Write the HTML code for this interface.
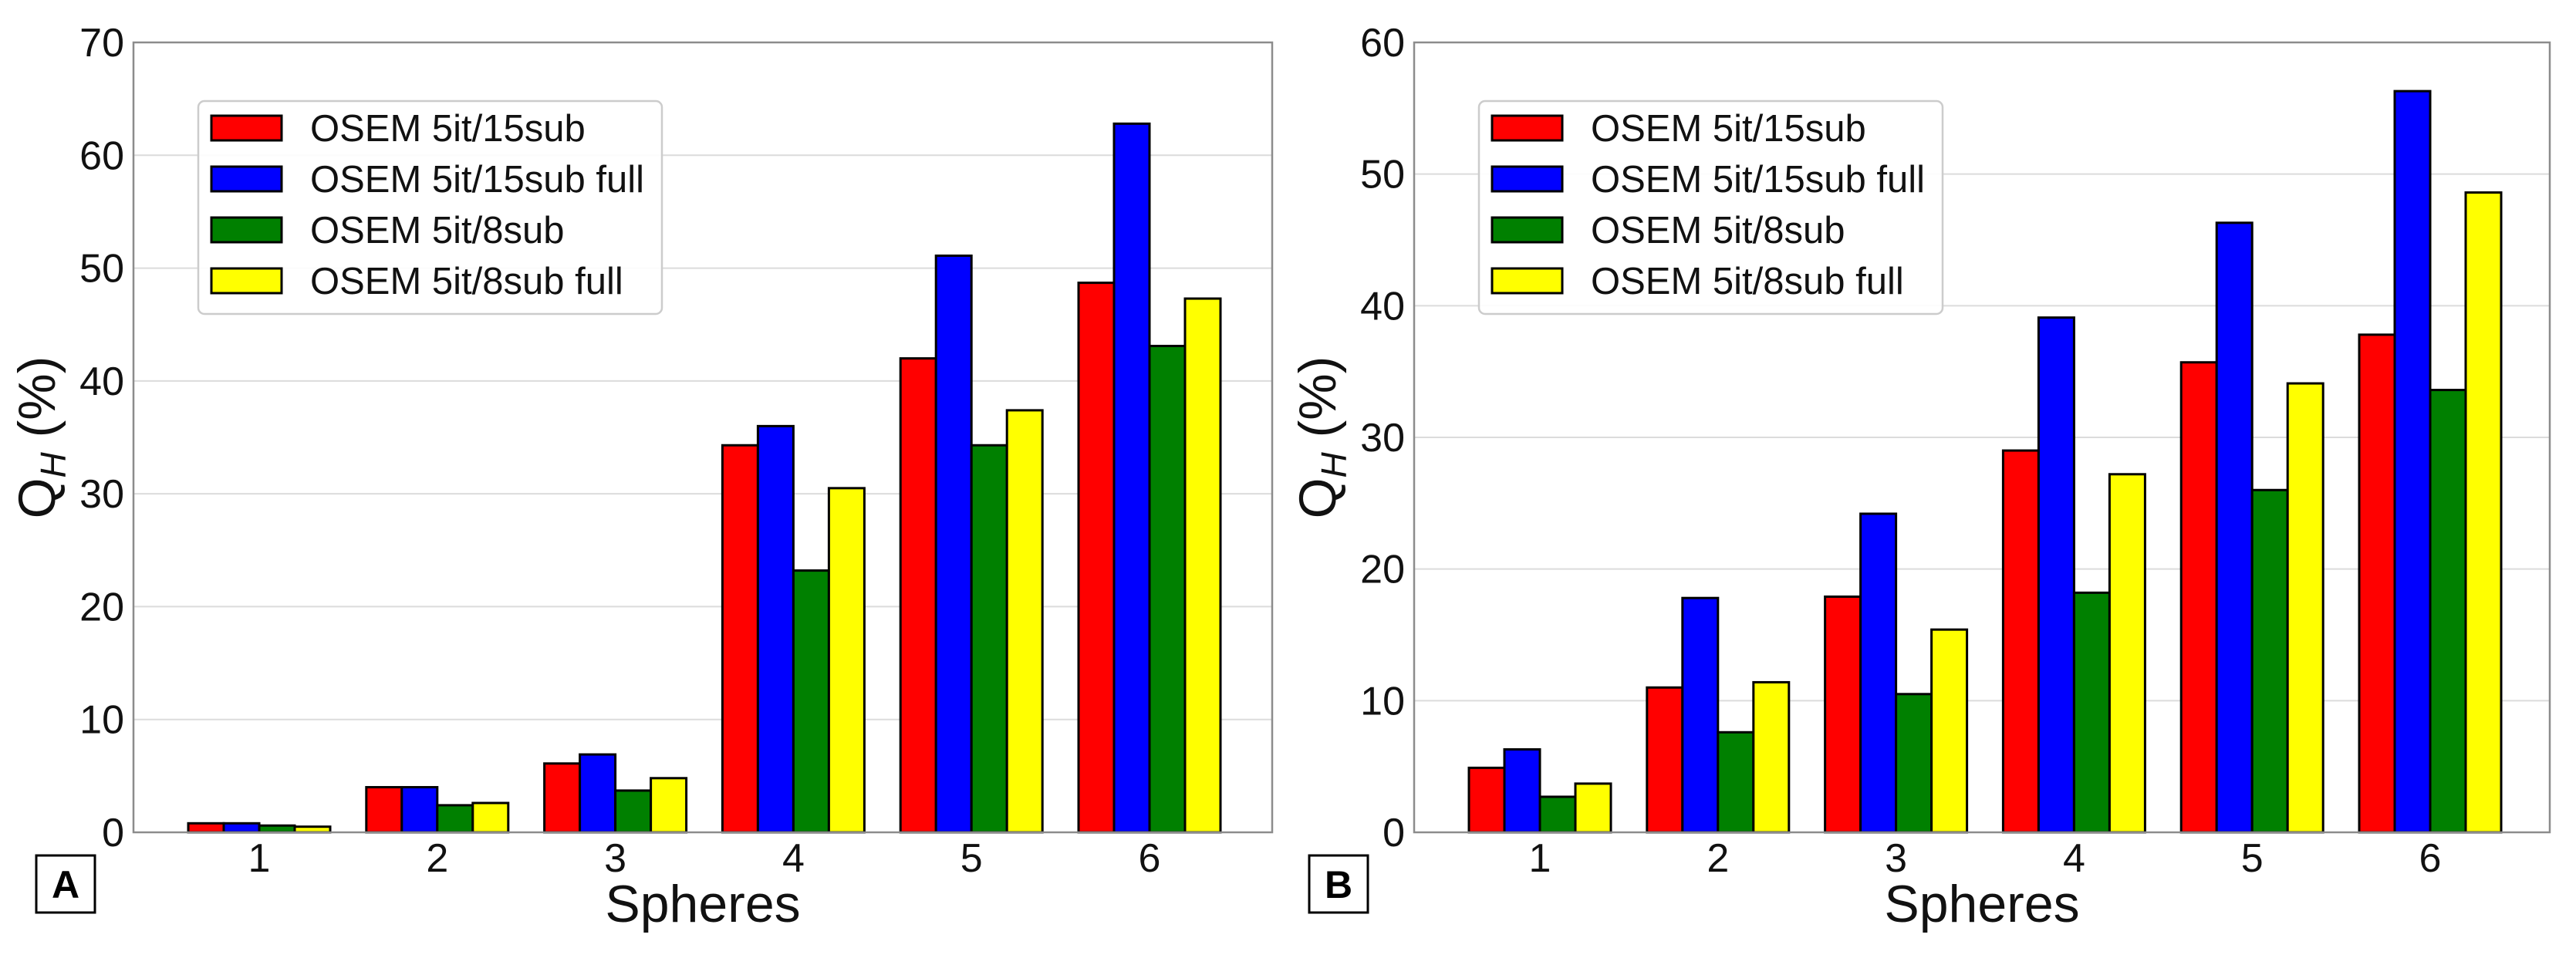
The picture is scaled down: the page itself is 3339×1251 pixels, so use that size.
<!DOCTYPE html>
<html><head><meta charset="utf-8"><style>
html,body{margin:0;padding:0;background:#fff;}
svg text{font-family:"Liberation Sans",sans-serif;}
</style></head><body>
<svg id="svg" width="3339" height="1246" xmlns="http://www.w3.org/2000/svg"></svg>
<script>
const categories = ["1","2","3","4","5","6"];
const seriesNames = ["OSEM 5it/15sub","OSEM 5it/15sub full","OSEM 5it/8sub","OSEM 5it/8sub full"];
const seriesColors = ["#ff0000","#0000ff","#008000","#ffff00"];
const aRed = [0.8, 4.0, 6.1, 34.3, 42.0, 48.7];
const aBlue = [0.8, 4.0, 6.9, 36.0, 51.1, 62.8];
const aGreen = [0.6, 2.4, 3.7, 23.2, 34.3, 43.1];
const aYellow = [0.5, 2.6, 4.8, 30.5, 37.4, 47.3];
const bRed = [4.9, 11.0, 17.9, 29.0, 35.7, 37.8];
const bBlue = [6.3, 17.8, 24.2, 39.1, 46.3, 56.3];
const bGreen = [2.7, 7.6, 10.5, 18.2, 26.0, 33.6];
const bYellow = [3.7, 11.4, 15.4, 27.2, 34.1, 48.6];
const aTicks = [0,10,20,30,40,50,60,70];
const bTicks = [0,10,20,30,40,50,60];

const NS="http://www.w3.org/2000/svg";
const svg=document.getElementById('svg');
function mk(tag,attrs,parent,text){const e=document.createElementNS(NS,tag);for(const k in attrs)e.setAttribute(k,attrs[k]);if(text!==undefined)e.textContent=text;(parent||svg).appendChild(e);return e;}

function panel(id,left,right,yMax,ticks,series,legendX,boxX,letter){
  const top=55,bottom=1079;
  const g=mk('g',{});
  
  
  const tick1=left+163, spacing=230.8;
  const xs=i=>tick1+i*spacing;
  const ys=v=>bottom-(v/yMax)*(bottom-top);
  ticks.forEach(t=>{
    if(t>0&&t<yMax){const l=mk('line',{x1:left,x2:right,y1:ys(t),y2:ys(t),stroke:'#dcdcdc','stroke-width':2},g);
    
    }
    const tx=mk('text',{x:left-12,y:ys(t)+18,'text-anchor':'end','font-size':52,fill:'#111'},g,String(t));
    
    
  });
  const bw=46;
  series.forEach((arr,s)=>{
    arr.forEach((v,i)=>{
      const x=xs(i)-2*bw+s*bw;
      const r=mk('rect',{x:x,y:ys(v),width:bw,height:bottom-ys(v),fill:seriesColors[s],stroke:'#000','stroke-width':3},g);
      
      
    });
  });
  const fr=mk('rect',{x:left,y:top,width:right-left,height:bottom-top,fill:'none',stroke:'#8c8c8c','stroke-width':2.5},g);
  
  
  categories.forEach((c,i)=>{
    const t=mk('text',{x:xs(i),y:1130,'text-anchor':'middle','font-size':52,fill:'#111'},g,c);
    
    
  });
  const xt=mk('text',{x:(left+right)/2,y:1195,'text-anchor':'middle','font-size':68,fill:'#111'},g,'Spheres');
  
  
  const yt=mk('text',{x:0,y:0,'text-anchor':'middle','font-size':68,fill:'#111',transform:`translate(${left-102},567) rotate(-90)`},g);
  
  
  mk('tspan',{},yt,'Q');
  mk('tspan',{'font-size':46,'font-style':'italic',dy:14},yt,'H');
  mk('tspan',{dy:-14},yt,' (%)');
  const lg=mk('g',{},g);
  
  
  mk('rect',{x:legendX,y:131,width:601,height:276,rx:8,fill:'#fff','fill-opacity':0.9,stroke:'#cccccc','stroke-width':2.5},lg);
  seriesNames.forEach((n,s)=>{
    const cy=166+s*66;
    const e=mk('g',{},lg);
    
    
    mk('rect',{x:legendX+17,y:cy-16,width:91,height:32,fill:seriesColors[s],stroke:'#000','stroke-width':3},e);
    mk('text',{x:legendX+145,y:cy+17,'font-size':49,fill:'#111'},e,n);
  });
  const bx=mk('g',{},g);
  
  
  mk('rect',{x:boxX,y:1109,width:76,height:74,fill:'#fff',stroke:'#000','stroke-width':3},bx);
  mk('text',{x:boxX+38,y:1164,'text-anchor':'middle','font-size':50,'font-weight':'bold',fill:'#000'},bx,letter);
}
panel('a',173,1649,70,aTicks,[aRed,aBlue,aGreen,aYellow],257,47,'A');
panel('b',1833,3305,60,bTicks,[bRed,bBlue,bGreen,bYellow],1917,1697,'B');
</script>
</body></html>
